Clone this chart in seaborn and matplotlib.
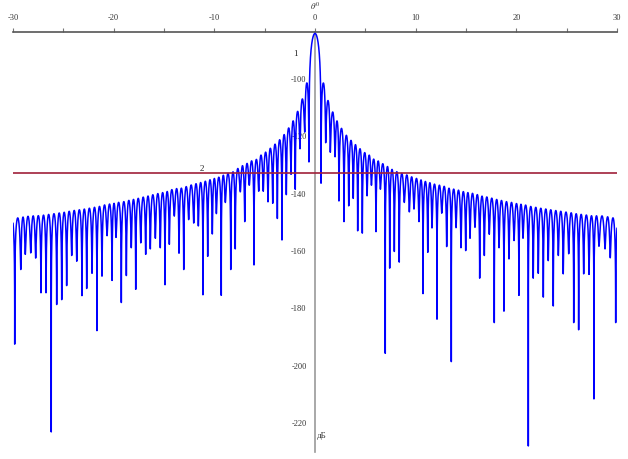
import numpy as np
import pandas as pd
import matplotlib
matplotlib.use("Agg")
import matplotlib.pyplot as plt
import seaborn as sns

# ---- data ----
# null (dip) angles in degrees and their levels in dB, left side (ascending)
left_null_deg = [-29.83, -29.23, -28.78, -28.24, -27.75, -27.22, -26.72, -26.20, -25.66, -25.16,
                 -24.67, -24.17, -23.67, -23.15, -22.68, -22.15, -21.66, -21.16, -20.66, -20.16,
                 -19.77, -19.24, -18.74, -18.25, -17.81, -17.31, -16.82, -16.36, -15.86, -15.37,
                 -14.90, -14.47, -13.98, -13.51, -13.04, -12.55, -12.05, -11.59, -11.13, -10.66,
                 -10.20, -9.80, -9.31, -8.91, -8.37, -7.92, -7.42, -6.98, -6.53, -6.06,
                 -5.59, -5.14, -4.67, -4.20, -3.74, -3.28, -2.85, -2.38, -1.96, -1.49,
                 -1.02, -0.60]
left_null_db = [-192.5, -166.5, -161.2, -160.7, -162.5, -174.6, -174.6, -223.1, -178.7, -177.0,
                -172.1, -161.6, -163.6, -175.6, -173.1, -167.8, -187.8, -168.8, -154.7, -170.3,
                -155.3, -178.0, -168.6, -158.9, -173.4, -157.2, -161.2, -159.3, -155.6, -158.9,
                -171.8, -157.7, -147.8, -160.8, -166.5, -149.1, -150.3, -151.3, -175.3, -161.9,
                -154.1, -147.0, -175.5, -143.1, -166.5, -159.3, -139.4, -149.8, -137.1, -164.9,
                -139.2, -139.2, -142.9, -143.4, -148.7, -156.2, -140.4, -133.3, -138.5, -124.4,
                -118.6, -129.0]
right_null_deg = [0.60, 1.06, 1.52, 1.99, 2.38, 2.88, 3.35, 3.80, 4.24, 4.70,
                  5.17, 5.60, 6.06, 6.49, 6.98, 7.42, 7.88, 8.37, 8.87, 9.37,
                  9.83, 10.33, 10.73, 11.20, 11.62, 12.12, 12.59, 13.08, 13.54, 14.01,
                  14.50, 14.97, 15.40, 15.89, 16.36, 16.82, 17.31, 17.81, 18.28, 18.77,
                  19.27, 19.77, 20.26, 20.66, 21.19, 21.68, 22.18, 22.68, 23.17, 23.67,
                  24.17, 24.66, 25.20, 25.70, 26.19, 26.69, 27.22, 27.71, 28.21, 28.81,
                  29.33, 29.87]
right_null_db = [-136.4, -122.3, -125.6, -127.2, -142.6, -149.8, -144.3, -141.7, -153.0, -153.8,
                 -140.8, -137.1, -153.3, -138.5, -195.7, -166.0, -160.2, -163.9, -143.1, -146.4,
                 -145.4, -149.8, -174.9, -160.5, -152.0, -183.8, -146.8, -158.5, -198.6, -151.9,
                 -158.9, -159.9, -155.6, -151.8, -169.5, -161.6, -154.2, -185.0, -158.9, -181.0,
                 -162.8, -156.4, -175.5, -155.6, -228.0, -169.5, -167.8, -176.1, -163.4, -179.2,
                 -161.6, -168.0, -161.0, -185.0, -187.5, -168.0, -168.2, -211.6, -158.4, -159.3,
                 -162.4, -185.0]
# side-lobe peak envelope (|angle| in degrees, level in dB)
env_deg = [0.83, 1.29, 1.75, 2.18, 2.63, 3.11, 3.57, 4.02, 4.47, 4.93, 5.38, 5.83,
           6.27, 6.73, 7.20, 7.65, 8.12, 8.62, 9.12, 9.60, 10.08, 10.5, 12.5, 15.0,
           17.5, 20.0, 22.5, 25.0, 27.5, 30.5]
env_db = [-101.5, -107.7, -111.7, -114.8, -117.3, -119.7, -121.5, -123.0, -124.4, -125.8,
          -126.9, -128.3, -128.9, -129.9, -130.6, -131.6, -132.4, -133.2, -133.9, -134.5,
          -135.0, -135.3, -137.5, -139.6, -141.7, -143.6, -145.2, -146.6, -147.8, -148.9]
main_peak_db = -84.2
limit_db = -132.7          # horizontal line "2"
x_ticks = [-30, -20, -10, 0, 10, 20, 30]
y_ticks = [-100, -120, -140, -160, -180, -200, -220]

# ---- build the pattern curve lobe by lobe ----
null_deg = [left_null_deg[0] - 0.55] + left_null_deg + right_null_deg + [right_null_deg[-1] + 0.55]
null_db = [-160.0] + left_null_db + right_null_db + [-160.0]

xs, ys = [], []
for k in range(len(null_deg) - 1):
    a, b = null_deg[k], null_deg[k + 1]
    c = 0.5 * (a + b)
    pk = main_peak_db if (a < 0 < b) else float(np.interp(abs(c), env_deg, env_db))
    u = np.linspace(0.0, 1.0, 180)
    ea = 10 ** ((null_db[k] - pk) / 10)
    eb = 10 ** ((null_db[k + 1] - pk) / 10)
    eps = ea * (1 - u) + eb * u
    xs.append(a + (b - a) * u)
    ys.append(pk + 10 * np.log10(np.sin(np.pi * u) ** 2 + eps))
x = np.concatenate(xs)
y = np.concatenate(ys)
m = (x >= -30) & (x <= 30)
df = pd.DataFrame({"theta": x[m], "db": y[m]})

# ---- figure ----
sns.set_theme(style="white")
plt.rcParams["font.family"] = ["Liberation Serif", "DejaVu Serif"]
plt.rcParams["mathtext.fontset"] = "stix"
plt.rcParams["axes.unicode_minus"] = False

fig = plt.figure(figsize=(6.28, 4.59), dpi=100)
ax = fig.add_axes([13 / 628, 1 - 451.7 / 459, 604 / 628, 419.7 / 459])

sns.lineplot(data=df, x="theta", y="db", estimator=None, sort=False,
             color="#0000ff", linewidth=1.1, ax=ax, zorder=3)
ax.axhline(limit_db, color="#a0203a", linewidth=1.2, zorder=4)

ax.set_xlim(-30, 30)
ax.set_ylim(-229.3, -83.7)
ax.set_xlabel("")
ax.set_ylabel("")
ax.grid(False)

for s in ["right", "bottom"]:
    ax.spines[s].set_visible(False)
ax.spines["top"].set_color("#555555")
ax.spines["top"].set_linewidth(1.2)
ax.spines["left"].set_position(("data", 0))
ax.spines["left"].set_color("#9a9a9a")
ax.spines["left"].set_linewidth(1.2)
ax.spines["left"].set_zorder(2)

ax.xaxis.tick_top()
ax.set_xticks(x_ticks)
ax.set_xticks(list(range(-30, 31, 5)), minor=True)
ax.set_xticklabels([str(t) for t in x_ticks])
ax.set_yticks(y_ticks)
ax.set_yticks(list(range(-230, -85, 10)), minor=True)
ax.set_yticklabels([str(t) for t in y_ticks])
ax.tick_params(axis="x", which="both", direction="out", length=3, width=0.8,
               color="#777777", labelsize=6, pad=4, labelcolor="#333333")
ax.tick_params(axis="y", which="both", direction="out", length=3, width=0.8,
               color="#999999", labelsize=6, pad=3, labelcolor="#333333")

ax.text(0, -74.6, r"$\theta^0$", ha="center", va="center", fontsize=6.5,
        color="#333333", clip_on=False)
ax.text(-1.9, -91.3, "1", ha="center", va="center", fontsize=6.5, color="#222222")
ax.text(-11.2, -131.4, "2", ha="center", va="center", fontsize=6.5, color="#222222")
ax.text(0.15, -224.4, "дБ", ha="left", va="center", fontsize=6.5, color="#333333")

fig.savefig("out.png", dpi=100, facecolor="white")
